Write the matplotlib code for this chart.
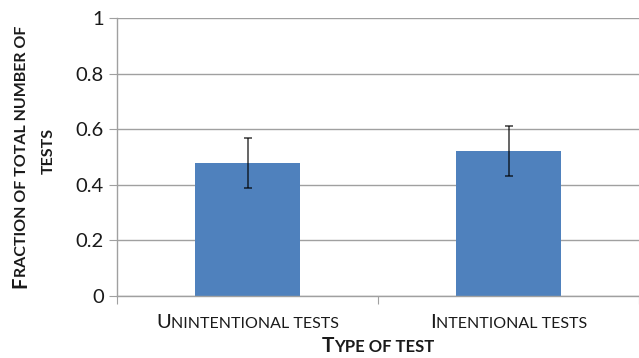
import matplotlib
matplotlib.use("Agg")
import matplotlib.pyplot as plt
import numpy as np

plt.rcParams["font.family"] = ["Lato", "DejaVu Sans"]

categories = ["Unintentional tests", "Intentional tests"]
fractions = [0.48, 0.52]
errors = [0.09, 0.09]
y_ticks = [0, 0.2, 0.4, 0.6, 0.8, 1.0]
y_tick_labels = ["0", "0.2", "0.4", "0.6", "0.8", "1"]
x_title = "Type of test"
y_title = ["Fraction of total number of", "tests"]

W, H = 639, 358
fig = plt.figure(figsize=(W / 100, H / 100), dpi=100)
ax = fig.add_axes([117 / W, 1 - 296 / H, 1 - 117 / W, (296 - 18) / H])

grey = "#a0a0a0"
ind = np.arange(len(categories))
ax.bar(ind, fractions, 0.4, color="#4f81bd", zorder=2)
ax.errorbar(ind, fractions, yerr=errors, fmt="none", ecolor="black", alpha=0.7,
            elinewidth=1.2, capsize=3, capthick=1.2, zorder=3)

ax.set_xlim(-0.5, len(categories) - 0.5)
ax.set_ylim(0, 1)
ax.set_yticks(y_ticks)
ax.set_yticklabels(y_tick_labels)
ax.yaxis.grid(True, color=grey, lw=1.0, zorder=1)
ax.set_axisbelow(True)
ax.set_xticks(np.arange(len(categories) + 1) - 0.5)
ax.set_xticklabels([])
ax.tick_params(axis="y", direction="out", length=5.5, width=0.8, color=grey,
               labelsize=14.5, labelcolor="#1a1a1a", pad=4)
ax.tick_params(axis="x", direction="out", length=5.5, width=0.8, color=grey)
for s in ["top", "right"]:
    ax.spines[s].set_visible(False)
for s in ["left", "bottom"]:
    ax.spines[s].set_color(grey)
    ax.spines[s].set_linewidth(1.0)

renderer = fig.canvas.get_renderer()


def smallcaps(x, y, text, big, small, weight="normal", rotation=0, first_big=True):
    # x, y: pixel position of the centre of the baseline
    if first_big:
        parts = [(text[0].upper(), big), (text[1:].upper(), small)]
    else:
        parts = [(text.upper(), small)]
    widths = []
    for s, size in parts:
        t = fig.text(0, 0, s, fontsize=size, fontweight=weight)
        widths.append(t.get_window_extent(renderer).width)
        t.remove()
    pos = -sum(widths) / 2
    for (s, size), w in zip(parts, widths):
        if rotation == 90:
            px, py = x, y + pos
        else:
            px, py = x + pos, y
        fig.text(px / W, py / H, s, fontsize=size, fontweight=weight,
                 rotation=rotation, rotation_mode="anchor", ha="left",
                 va="baseline", color="#1a1a1a")
        pos += w


for i, name in enumerate(categories):
    px = ax.transData.transform((i, 0))[0]
    smallcaps(px, H - 328, name, 14.5, 11.5)

mid = ax.transAxes.transform((0.5, 0))[0]
smallcaps(mid, H - 352, x_title, 15.0, 12.0, weight="bold")

ymid = ax.transAxes.transform((0, 0.5))[1]
smallcaps(26, ymid, y_title[0], 14.5, 11.5, weight="bold", rotation=90)
smallcaps(53, ymid + 6, y_title[1], 14.5, 11.5, weight="bold", rotation=90,
          first_big=False)

fig.savefig("out.png", dpi=100)
